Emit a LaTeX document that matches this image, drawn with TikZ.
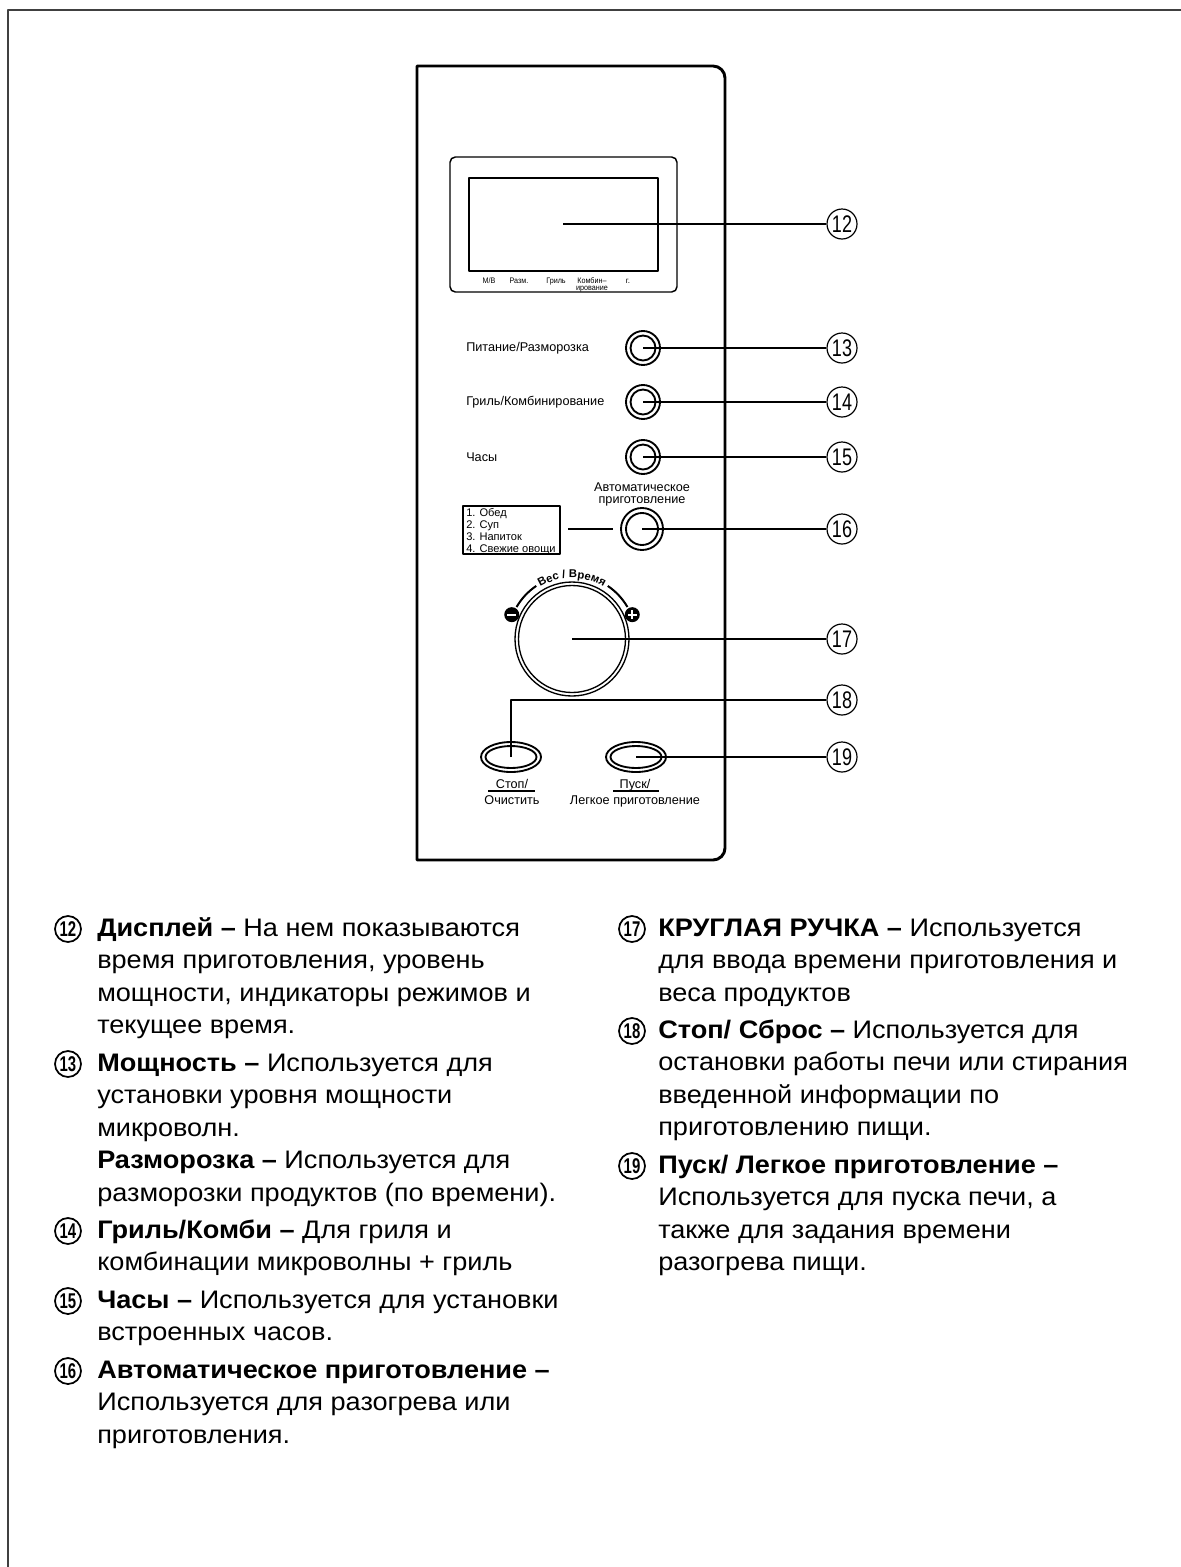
\documentclass[tikz,border=0pt]{standalone}
\usepackage{fontspec}
\setmainfont{Liberation Sans}
\newfontfamily\bodyfam{Liberation Sans}[FakeStretch=1.07]
\usetikzlibrary{decorations.text}
\newcommand\bodyfont{\bodyfam\fontsize{19}{22}\selectfont}
\begin{document}
\begin{tikzpicture}[x=0.75pt,y=0.75pt,line join=round]
\useasboundingbox (0,0) rectangle (1181,-1567);
\tikzset{
  frameline/.style={draw=black!75,line width=1.5pt},
  panel/.style={line width=2.2pt},
  lead/.style={line width=1.25pt},
  btn/.style={line width=1.4pt},
  callout/.style={circle,draw,line width=0.9pt,minimum size=30*0.75pt,inner sep=0pt,font=\fontsize{18}{18}\selectfont},
  lnum/.style={circle,draw,line width=1.3pt,minimum size=26*0.75pt,inner sep=0pt,font=\fontsize{16}{16}\selectfont\bfseries},
  plabel/.style={inner sep=0pt,font=\fontsize{9.5}{10}\selectfont},
  dlabel/.style={inner sep=0pt,anchor=base,font=\fontsize{6}{6}\selectfont},
  txt/.style={anchor=base west,inner sep=0pt,font=\bodyfont},
}
% outer frame
\draw[frameline] (1181,-10) -- (8,-10) -- (8,-1567);
% panel
\draw[panel] (417,-860) -- (417,-66) -- (713,-66) arc[start angle=90,end angle=0,radius=12]
  -- (725,-848) arc[start angle=0,end angle=-90,radius=12] -- cycle;
% display
\draw[line width=1.1pt,rounded corners=4pt] (450,-157) rectangle (677,-292);
\draw[line width=1.8pt] (469,-178) rectangle (658,-271);
\coordinate (disp) at (563,-224);
\node[dlabel] (d1) at (489,-283) {\scalebox{0.9}[1]{М/В}};
\node[dlabel] (d2) at (519,-283) {\scalebox{0.9}[1]{Разм.}};
\node[dlabel] (d3) at (556,-283) {\scalebox{0.9}[1]{Гриль}};
\node[dlabel] (d4) at (592,-283) {\scalebox{0.9}[1]{Комбин–}};
\node[dlabel] (d4b) at (592,-290) {\scalebox{0.9}[1]{ирование}};
\node[dlabel] (d5) at (628,-283) {г.};
% callouts
\node[callout] (c12) at (842,-224) {\scalebox{0.75}[1]{12}};
\node[callout] (c13) at (842,-348) {\scalebox{0.75}[1]{13}};
\node[callout] (c14) at (842,-402) {\scalebox{0.75}[1]{14}};
\node[callout] (c15) at (842,-457) {\scalebox{0.75}[1]{15}};
\node[callout] (c16) at (842,-529) {\scalebox{0.75}[1]{16}};
\node[callout] (c17) at (842,-639) {\scalebox{0.75}[1]{17}};
\node[callout] (c18) at (842,-700) {\scalebox{0.75}[1]{18}};
\node[callout] (c19) at (842,-757) {\scalebox{0.75}[1]{19}};
\draw[lead] (disp) -- (c12);
% round buttons
\coordinate (b13) at (643,-348);
\coordinate (b14) at (643,-402);
\coordinate (b15) at (643,-457);
\foreach \b in {b13,b14,b15}{\draw[btn] (\b) circle[radius=17] (\b) circle[radius=12.5];}
\node[plabel,anchor=west] (l13) at (466,-348) {Питание/Разморозка};
\node[plabel,anchor=west] (l14) at (466,-402) {Гриль/Комбинирование};
\node[plabel,anchor=west] (l15) at (466,-457) {Часы};
\draw[lead] (b13) -- (c13);
\draw[lead] (b14) -- (c14);
\draw[lead] (b15) -- (c15);
% auto cook
\coordinate (b16) at (642,-529);
\draw[btn] (b16) circle[radius=21] (b16) circle[radius=16];
\node[plabel,align=center,font=\fontsize{9.5}{9}\selectfont] (l16) at (642,-494) {Автоматическое\\приготовление};
\node[draw,line width=1pt,inner sep=0pt,minimum width=97*0.75pt,minimum height=48*0.75pt] (menu) at (511.5,-530) {};
\node[anchor=west,inner sep=0pt,align=left,font=\fontsize{8.3}{9}\selectfont] (menutext) at (466,-531.5) {1. Обед\\2. Суп\\3. Напиток\\4. Свежие овощи};
\coordinate (m1) at (568,-529);
\coordinate (m2) at (613,-529);
\draw[lead] (m1) -- (m2);
\draw[lead] (b16) -- (c16);
% knob
\coordinate (knob) at (572,-639);
\draw[line width=1pt] (knob) circle[radius=57] (knob) circle[radius=53.5];
\draw[line width=1.5pt] ([shift={(150:64)}]knob) arc[start angle=150,end angle=124,radius=64];
\draw[line width=1.5pt] ([shift={(56:64)}]knob) arc[start angle=56,end angle=30,radius=64];
\path[decorate,decoration={text along path,text align=center,text format delimiters={|}{|},
  text={|\bfseries\fontsize{8.5}{8.5}\selectfont|Вес / Время}}]
  ([shift={(125:61)}]knob) arc[start angle=125,end angle=55,radius=61];
\coordinate (kminus) at ([shift={(158:65)}]knob);
\coordinate (kplus) at ([shift={(22:65)}]knob);
\fill (kminus) circle[radius=7.5];
\fill (kplus) circle[radius=7.5];
\draw[white,line width=1.3pt] ([xshift=-3.2pt]kminus) -- ([xshift=3.2pt]kminus);
\draw[white,line width=1.3pt] ([xshift=-3.2pt]kplus) -- ([xshift=3.2pt]kplus);
\draw[white,line width=1.3pt] ([yshift=-3.2pt]kplus) -- ([yshift=3.2pt]kplus);
\draw[lead] (knob) -- (c17);
% oval buttons
\coordinate (b18) at (511,-757);
\coordinate (b19) at (636,-757);
\foreach \b in {b18,b19}{\draw[btn] (\b) ellipse[x radius=30,y radius=15] (\b) ellipse[x radius=25.5,y radius=11];}
\draw[lead] (b18) |- (c18);
\draw[lead] (b19) -- (c19);
\node[plabel,anchor=base] (l18a) at (512,-788) {Стоп/};
\node[plabel,anchor=base] (l18b) at (512,-804) {Очистить};
\node[plabel,anchor=base] (l19a) at (635,-788) {Пуск/};
\node[plabel,anchor=base] (l19b) at (635,-804) {Легкое приготовление};
\draw[line width=0.8pt] (488,-791) -- (535,-791);
\draw[line width=0.8pt] (613,-791) -- (659,-791);
% description, left column
\node[lnum] (n12) at (68,-929) {\scalebox{0.7}[1]{12}};
\node[lnum] (n13) at (68,-1064) {\scalebox{0.7}[1]{13}};
\node[lnum] (n14) at (68,-1231) {\scalebox{0.7}[1]{14}};
\node[lnum] (n15) at (68,-1301) {\scalebox{0.7}[1]{15}};
\node[lnum] (n16) at (68,-1371) {\scalebox{0.7}[1]{16}};
\node[txt] (t1) at (97,-936) {\textbf{Дисплей –} На нем показываются};
\node[txt] (t2) at (97,-968.5) {время приготовления, уровень};
\node[txt] (t3) at (97,-1001) {мощности, индикаторы режимов и};
\node[txt] (t4) at (97,-1033.5) {текущее время.};
\node[txt] (t5) at (97,-1071) {\textbf{Мощность –} Используется для};
\node[txt] (t6) at (97,-1103.5) {установки уровня мощности};
\node[txt] (t7) at (97,-1136) {микроволн.};
\node[txt] (t8) at (97,-1168.5) {\textbf{Разморозка –} Используется для};
\node[txt] (t9) at (97,-1201) {разморозки продуктов (по времени).};
\node[txt] (t10) at (97,-1238) {\textbf{Гриль/Комби –} Для гриля и};
\node[txt] (t11) at (97,-1270.5) {комбинации микроволны + гриль};
\node[txt] (t12) at (97,-1308) {\textbf{Часы –} Используется для установки};
\node[txt] (t13) at (97,-1340.5) {встроенных часов.};
\node[txt] (t14) at (97,-1378) {\textbf{Автоматическое приготовление –}};
\node[txt] (t15) at (97,-1410.5) {Используется для разогрева или};
\node[txt] (t16) at (97,-1443) {приготовления.};
% description, right column
\node[lnum] (n17) at (632,-929) {\scalebox{0.7}[1]{17}};
\node[lnum] (n18) at (632,-1031) {\scalebox{0.7}[1]{18}};
\node[lnum] (n19) at (632,-1166) {\scalebox{0.7}[1]{19}};
\node[txt] (r1) at (658,-936) {\textbf{КРУГЛАЯ РУЧКА –} Используется};
\node[txt] (r2) at (658,-968.5) {для ввода времени приготовления и};
\node[txt] (r3) at (658,-1001) {веса продуктов};
\node[txt] (r4) at (658,-1038) {\textbf{Стоп/ Сброс –} Используется для};
\node[txt] (r5) at (658,-1070.5) {остановки работы печи или стирания};
\node[txt] (r6) at (658,-1103) {введенной информации по};
\node[txt] (r7) at (658,-1135.5) {приготовлению пищи.};
\node[txt] (r8) at (658,-1173) {\textbf{Пуск/ Легкое приготовление –}};
\node[txt] (r9) at (658,-1205.5) {Используется для пуска печи, а};
\node[txt] (r10) at (658,-1238) {также для задания времени};
\node[txt] (r11) at (658,-1270.5) {разогрева пищи.};
\end{tikzpicture}
\end{document}
